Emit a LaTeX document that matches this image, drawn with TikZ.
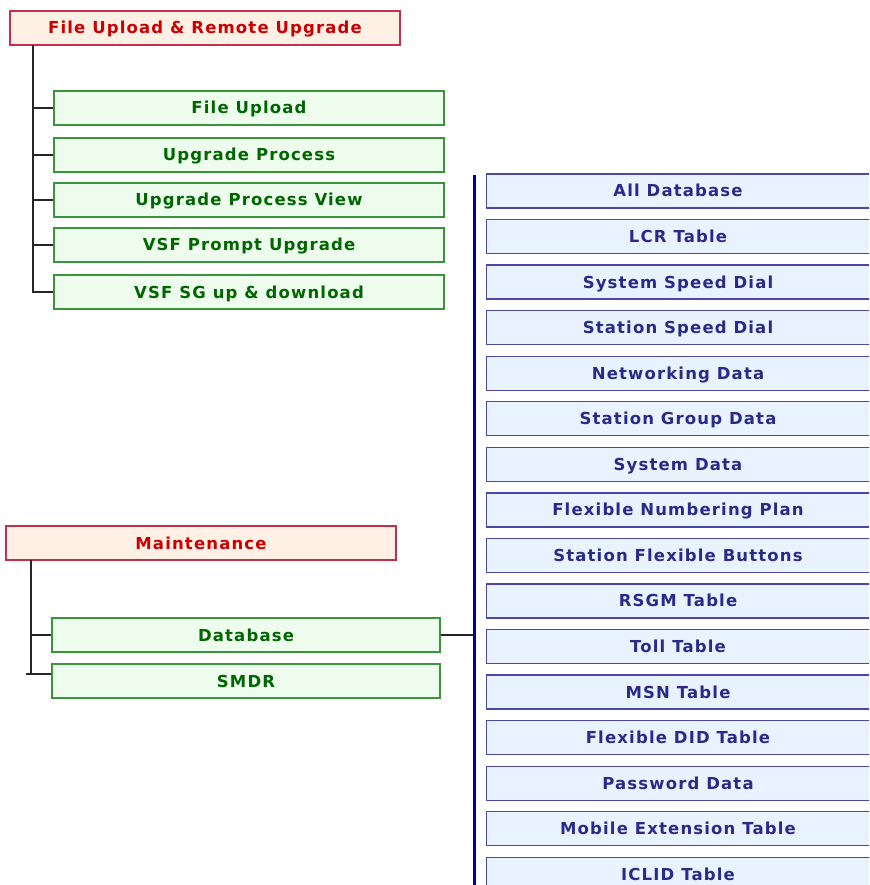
\documentclass[tikz,border=0pt]{standalone}
\usepackage{fontspec}
\setmainfont{DejaVu Sans}
\newfontfamily\boxfont{DejaVu Sans}[LetterSpace=7]
\definecolor{redfill}{HTML}{FFF0E6}
\definecolor{redline}{HTML}{C4304C}
\definecolor{redtext}{HTML}{CC0000}
\definecolor{greenfill}{HTML}{EEFCEE}
\definecolor{greenline}{HTML}{3A943A}
\definecolor{greentext}{HTML}{006600}
\definecolor{bluefill}{HTML}{E8F3FF}
\definecolor{blueline}{HTML}{4848AA}
\definecolor{bluetext}{HTML}{2A2A88}
\definecolor{bluebar}{HTML}{000099}
\begin{document}
\begin{tikzpicture}[x=1pt,y=-1pt,
  boxtext/.style={font=\boxfont\bfseries\fontsize{16.5}{18}\selectfont, text height=12pt, text depth=0pt},
  base/.style={draw, line width=1.3pt, minimum height=34pt, inner sep=0pt, boxtext},
  redbox/.style={base, fill=redfill, draw=redline, text=redtext, minimum width=390pt},
  greenbox/.style={base, fill=greenfill, draw=greenline, text=greentext, minimum width=390pt},
  bluebox/.style={base, fill=bluefill, draw=blueline, text=bluetext, minimum width=384pt},
  conn/.style={draw=black!85, line width=1.3pt}]
\useasboundingbox (0,0) rectangle (869,885);
\begin{scope}
\clip (0,0) rectangle (869,885);
% top group
\node[redbox] (fur) at (205,28) {File Upload \& Remote Upgrade};
\node[greenbox] (g1) at (249,108) {File Upload};
\node[greenbox] (g2) at (249,155) {Upgrade Process};
\node[greenbox] (g3) at (249,200) {Upgrade Process View};
\node[greenbox] (g4) at (249,245) {VSF Prompt Upgrade};
\node[greenbox] (g5) at (249,292) {VSF SG up \& download};
\coordinate (t0) at (33,45);
\coordinate (t5) at (33,292);
\draw[conn] (t0) -- (t5) -- (g5.west);
\foreach \g in {g1,g2,g3,g4} \draw[conn] (33,0 |- \g.west) -- (\g.west);
% maintenance group
\node[redbox] (mnt) at (201,543) {Maintenance};
\node[greenbox, minimum width=388pt] (db) at (246,635) {Database};
\node[greenbox, minimum width=388pt] (smdr) at (246,681) {SMDR};
\coordinate (m0) at (31,560);
\coordinate (m1) at (31,674);
\coordinate (m1l) at (26,674);
\draw[conn] (m0) -- (m1);
\draw[conn] (31,635) -- (db.west);
\draw[conn] (m1l) -- (smdr.west |- m1l);
\coordinate (bj) at (473,635);
\draw[conn] (db.east) -- (bj);
% blue bar
\coordinate (bt) at (474.5,175);
\coordinate (bb) at (474.5,885);
\draw[draw=bluebar, line width=3pt] (bt) -- (bb);
% blue boxes
\foreach \t [count=\i from 0] in {All Database, LCR Table, System Speed Dial, Station Speed Dial, Networking Data, Station Group Data, System Data, Flexible Numbering Plan, Station Flexible Buttons, RSGM Table, Toll Table, MSN Table, Flexible DID Table, Password Data, Mobile Extension Table, ICLID Table}{
  \node[bluebox, anchor=west] (b\i) at (486,{191+45.55*\i}) {};
  \node[text=bluetext, boxtext, inner sep=0pt] (bt\i) at (678,{191+45.55*\i}) {\t};
}
\end{scope}
\end{tikzpicture}
\end{document}
